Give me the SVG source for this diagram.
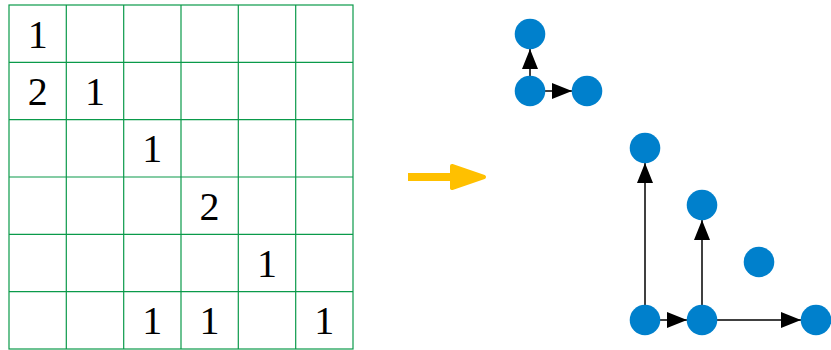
<svg xmlns="http://www.w3.org/2000/svg" width="831" height="350" viewBox="0 0 831 350">
<style>
.g{stroke:#0A9A4A;stroke-width:1.2;fill:none}
.t{font-family:"Liberation Serif","DejaVu Serif",serif;font-size:40px;fill:#000;text-anchor:middle}
.n{fill:#0080CC}
.e{stroke:#000;stroke-width:1.5;fill:none;marker-end:url(#ah)}
</style>
<defs>
<marker id="ah" markerUnits="userSpaceOnUse" markerWidth="20" markerHeight="16" refX="20" refY="8" orient="auto">
<path d="M0,0 L20,8 L0,16 Z" fill="#000"/>
</marker>
</defs>
<g id="grid">
<rect class="g" x="9" y="5" width="344" height="344"/>
<path class="g" d="M66.3,5V349M123.7,5V349M181,5V349M238.3,5V349M295.7,5V349M9,62.3H353M9,119.7H353M9,177H353M9,234.3H353M9,291.7H353"/>
</g>
<g id="numbers">
<text class="t" x="37.7" y="48">1</text>
<text class="t" x="37.7" y="105">2</text>
<text class="t" x="95" y="105">1</text>
<text class="t" x="152.3" y="162">1</text>
<text class="t" x="209.6" y="220">2</text>
<text class="t" x="267" y="277">1</text>
<text class="t" x="152.3" y="334">1</text>
<text class="t" x="209.6" y="334">1</text>
<text class="t" x="324.3" y="334">1</text>
</g>
<g id="big-arrow">
<path d="M408,177 H460" stroke="#FFC000" stroke-width="8" fill="none"/>
<path d="M452,166 L484,177 L452,188 Z" fill="#FFC000" stroke="#FFC000" stroke-width="4" stroke-linejoin="round"/>
</g>
<g id="connectors">
<path class="e" d="M530,91 V49"/>
<path class="e" d="M530,91 H572"/>
<path class="e" d="M645,320 V163"/>
<path class="e" d="M702,320 V220"/>
<path class="e" d="M645,320 H687"/>
<path class="e" d="M702,320 H801"/>
</g>
<g id="a1"><circle class="n" cx="530" cy="34" r="15.3"/></g>
<g id="a2"><circle class="n" cx="530" cy="91" r="15.3"/></g>
<g id="a3"><circle class="n" cx="587" cy="91" r="15.3"/></g>
<g id="b1"><circle class="n" cx="645" cy="148" r="15.3"/></g>
<g id="b2"><circle class="n" cx="702" cy="205" r="15.3"/></g>
<g id="b3"><circle class="n" cx="759" cy="262" r="15.3"/></g>
<g id="b4"><circle class="n" cx="645" cy="320" r="15.3"/></g>
<g id="b5"><circle class="n" cx="702" cy="320" r="15.3"/></g>
<g id="b6"><circle class="n" cx="816" cy="320" r="15.3"/></g>
</svg>
